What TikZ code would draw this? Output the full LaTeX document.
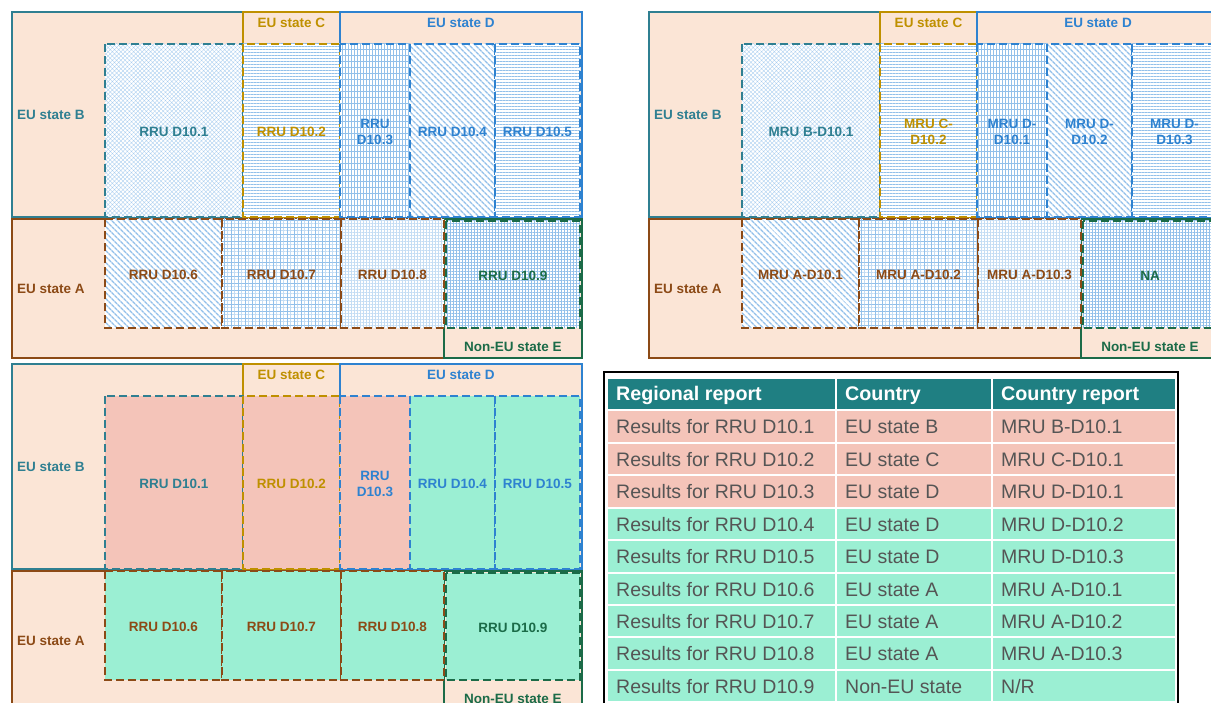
\documentclass[tikz,border=0pt]{standalone}
\usepackage{fontspec}
\setmainfont{Liberation Sans}
\usetikzlibrary{patterns.meta}
\definecolor{peach}{HTML}{FBE5D6}
\definecolor{cB}{HTML}{2F7F91}
\definecolor{cC}{HTML}{BF9000}
\definecolor{cD}{HTML}{2E82D0}
\definecolor{cA}{HTML}{8C4A16}
\definecolor{cE}{HTML}{1B6B48}
\definecolor{patblue}{HTML}{92C0EA}
\definecolor{patmid}{HTML}{A9CEF0}
\definecolor{patlight}{HTML}{C4DDF4}
\definecolor{pinkc}{HTML}{F4C4B9}
\definecolor{mintc}{HTML}{9BEFD3}
\definecolor{hdr}{HTML}{1F7F82}
\definecolor{tgray}{HTML}{555555}
\tikzset{
  region/.style={fill=peach, line width=2.5pt},
  box/.style={line width=2.8pt, dash pattern=on 8pt off 4pt},
  lbl/.style={font=\bfseries\fontsize{13.5}{16.5}\selectfont, align=center, inner sep=0pt},
  cell/.style={font=\fontsize{19.5}{22}\selectfont, text=tgray, anchor=base west, inner sep=0pt},
  hcell/.style={font=\bfseries\fontsize{19.7}{22}\selectfont, text=white, anchor=base west, inner sep=0pt},
  tcell/.style={draw=white, line width=2pt},
  patA/.style={preaction={fill=white}, pattern={Hatch[angle=45,distance=3pt,line width=0.35pt]}, pattern color=patmid},
  patH/.style={preaction={fill=white}, pattern={Lines[angle=0,distance=3pt,line width=0.9pt]}, pattern color=patblue},
  patV/.style={preaction={fill=white}, preaction={pattern={Lines[angle=90,distance=3pt,line width=0.7pt]}, pattern color=patblue}, pattern={Lines[angle=0,distance=6pt,line width=0.5pt]}, pattern color=patblue},
  patD/.style={preaction={fill=white}, pattern={Lines[angle=-45,distance=4pt,line width=1.5pt]}, pattern color=patblue},
  patG/.style={preaction={fill=white}, preaction={pattern={Hatch[angle=0,distance=3.5pt,line width=0.3pt]}, pattern color=patlight}, pattern={Hatch[angle=0,distance=7pt,line width=0.7pt]}, pattern color=patblue},
  patP/.style={preaction={fill=white}, pattern={Hatch[angle=0,distance=3pt,line width=0.5pt]}, pattern color=patlight},
  patK/.style={preaction={fill=white}, pattern={Hatch[angle=0,distance=3pt,line width=0.8pt]}, pattern color=patblue},
}
\newcommand\regions[1]{%
  \draw[region, draw=cB] (12,12) rectangle (243,217);
  \draw[region, draw=cC] (243,12) rectangle (340,217);
  \draw[region, draw=cD] (340,12) rectangle (582,217);
  \draw[region, draw=cA] (12,219) rectangle (444,358);
  \draw[region, draw=cE] (444,219) rectangle (582,358);
  \node[lbl, text=cB, anchor=west] (#1B) at (17,115) {EU state B};
  \node[lbl, text=cA, anchor=west] (#1A) at (17,289) {EU state A};
  \node[lbl, text=cC] (#1C) at (291.5,23) {EU state C};
  \node[lbl, text=cD] (#1D) at (461,23) {EU state D};
  \node[lbl, text=cE] (#1E) at (513,347) {Non-EU state E};
}
\newcommand\mybox[8]{%
  \draw[box, draw=#6, #7] (#2,#3) rectangle (#4,#5);
  \node[lbl, text=#6] (#1) at ({(#2+#4)/2},{(#3+#5)/2+1.5}) {#8};
}
\newcommand\tabrow[5]{%
  \pgfmathsetmacro\yt{410.5+32.4*#1}
  \pgfmathsetmacro\yb{\yt+32.4}
  \pgfmathsetmacro\ybase{\yt+23.5}
  \draw[tcell, fill=#2] (607,\yt) rectangle (836,\yb);
  \draw[tcell, fill=#2] (836,\yt) rectangle (992,\yb);
  \draw[tcell, fill=#2] (992,\yt) rectangle (1176,\yb);
  \node[cell] (r#1a) at (616,\ybase) {#3};
  \node[cell] (r#1b) at (845,\ybase) {#4};
  \node[cell] (r#1c) at (1001,\ybase) {#5};
}
\begin{document}
\begin{tikzpicture}[x=1pt,y=-1pt]
\useasboundingbox (0,0) rectangle (1211,703);
\clip (0,0) rectangle (1211,703);
\fill[white] (0,0) rectangle (1211,703);

% ---------- panel 1 ----------
\begin{scope}
\regions{p1}
\mybox{p1b1}{105}{44}{243}{217}{cB}{patA}{RRU D10.1}
\mybox{p1b2}{243}{44}{340}{217}{cC}{patH}{RRU D10.2}
\mybox{p1b3}{340}{44}{410}{217}{cD}{patV}{RRU\\D10.3}
\mybox{p1b4}{410}{44}{495}{217}{cD}{patD}{RRU D10.4}
\mybox{p1b5}{495}{44}{580}{217}{cD}{patH}{RRU D10.5}
\mybox{p1b6}{105}{219}{222}{328}{cA}{patD}{RRU D10.6}
\mybox{p1b7}{222}{219}{341}{328}{cA}{patG}{RRU D10.7}
\mybox{p1b8}{341}{219}{444}{328}{cA}{patP}{RRU D10.8}
\mybox{p1b9}{446}{221}{580}{328}{cE}{patK}{RRU D10.9}
\end{scope}

% ---------- panel 2 ----------
\begin{scope}[shift={(637,0)}]
\regions{p2}
\mybox{p2b1}{105}{44}{243}{217}{cB}{patA}{MRU B-D10.1}
\mybox{p2b2}{243}{44}{340}{217}{cC}{patH}{MRU C-\\D10.2}
\mybox{p2b3}{340}{44}{410}{217}{cD}{patV}{MRU D-\\D10.1}
\mybox{p2b4}{410}{44}{495}{217}{cD}{patD}{MRU D-\\D10.2}
\mybox{p2b5}{495}{44}{580}{217}{cD}{patH}{MRU D-\\D10.3}
\mybox{p2b6}{105}{219}{222}{328}{cA}{patD}{MRU A-D10.1}
\mybox{p2b7}{222}{219}{341}{328}{cA}{patG}{MRU A-D10.2}
\mybox{p2b8}{341}{219}{444}{328}{cA}{patP}{MRU A-D10.3}
\mybox{p2b9}{446}{221}{580}{328}{cE}{patK}{NA}
\end{scope}

% ---------- panel 3 ----------
\begin{scope}[shift={(0,352)}]
\regions{p3}
\mybox{p3b1}{105}{44}{243}{217}{cB}{fill=pinkc}{RRU D10.1}
\mybox{p3b2}{243}{44}{340}{217}{cC}{fill=pinkc}{RRU D10.2}
\mybox{p3b3}{340}{44}{410}{217}{cD}{fill=pinkc}{RRU\\D10.3}
\mybox{p3b4}{410}{44}{495}{217}{cD}{fill=mintc}{RRU D10.4}
\mybox{p3b5}{495}{44}{580}{217}{cD}{fill=mintc}{RRU D10.5}
\mybox{p3b6}{105}{219}{222}{328}{cA}{fill=mintc}{RRU D10.6}
\mybox{p3b7}{222}{219}{341}{328}{cA}{fill=mintc}{RRU D10.7}
\mybox{p3b8}{341}{219}{444}{328}{cA}{fill=mintc}{RRU D10.8}
\mybox{p3b9}{446}{221}{580}{328}{cE}{fill=mintc}{RRU D10.9}
\end{scope}

% ---------- table ----------
\draw[line width=2.5pt] (604,372) rectangle (1178,720);
\draw[tcell, fill=hdr] (607,378) rectangle (836,410.5);
\draw[tcell, fill=hdr] (836,378) rectangle (992,410.5);
\draw[tcell, fill=hdr] (992,378) rectangle (1176,410.5);
\node[hcell] (ha) at (616,401) {Regional report};
\node[hcell] (hb) at (845,401) {Country};
\node[hcell] (hc) at (1001,401) {Country report};
\tabrow{0}{pinkc}{Results for RRU D10.1}{EU state B}{MRU B-D10.1}
\tabrow{1}{pinkc}{Results for RRU D10.2}{EU state C}{MRU C-D10.1}
\tabrow{2}{pinkc}{Results for RRU D10.3}{EU state D}{MRU D-D10.1}
\tabrow{3}{mintc}{Results for RRU D10.4}{EU state D}{MRU D-D10.2}
\tabrow{4}{mintc}{Results for RRU D10.5}{EU state D}{MRU D-D10.3}
\tabrow{5}{mintc}{Results for RRU D10.6}{EU state A}{MRU A-D10.1}
\tabrow{6}{mintc}{Results for RRU D10.7}{EU state A}{MRU A-D10.2}
\tabrow{7}{mintc}{Results for RRU D10.8}{EU state A}{MRU A-D10.3}
\tabrow{8}{mintc}{Results for RRU D10.9}{Non-EU state}{N/R}
\end{tikzpicture}
\end{document}
